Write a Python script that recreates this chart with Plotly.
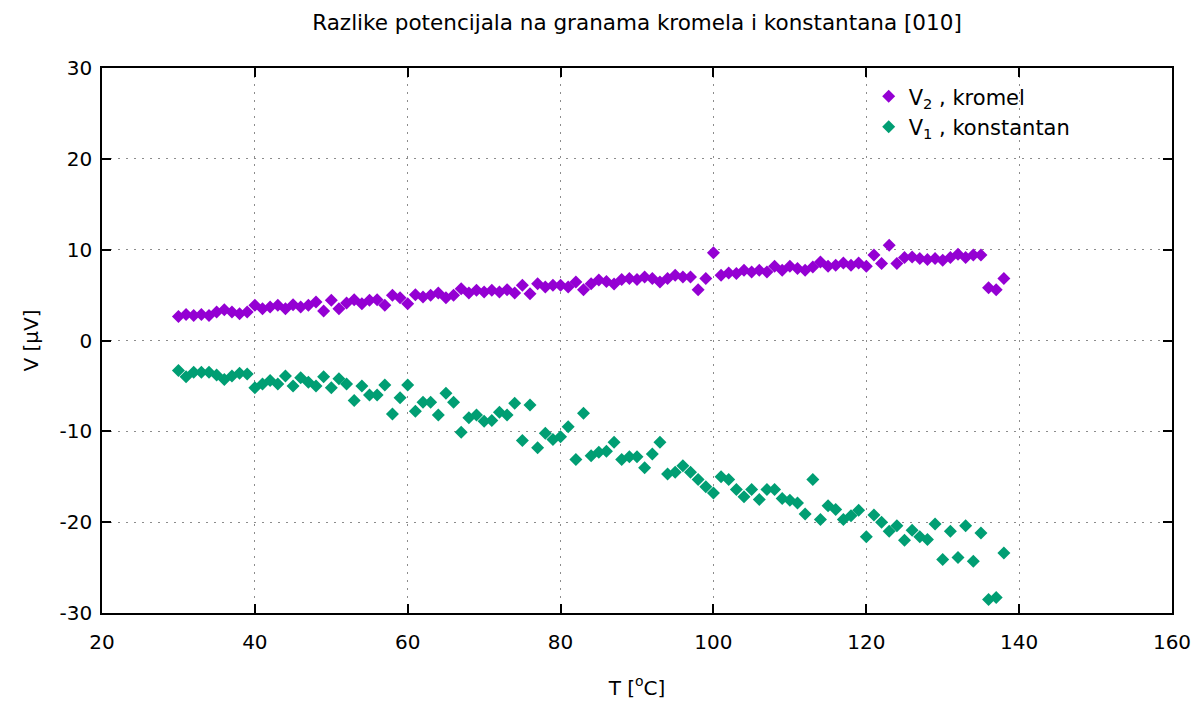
import plotly.graph_objects as go

T = list(range(30, 139))

V2_kromel = [
    2.65, 2.87, 2.76, 2.87, 2.76, 3.13, 3.39, 3.13, 2.95, 3.13,
    3.87, 3.5, 3.68, 3.87, 3.5, 3.94, 3.68, 3.87, 4.23, 3.24,
    4.42, 3.5, 4.12, 4.49, 4.05, 4.42, 4.49, 3.87, 4.97, 4.71,
    4.05, 5.05, 4.79, 4.97, 5.23, 4.71, 4.97, 5.71, 5.23, 5.52,
    5.34, 5.52, 5.34, 5.6, 5.23, 6.08, 5.16, 6.26, 5.89, 6.08,
    6.08, 5.89, 6.45, 5.6, 6.26, 6.67, 6.5, 6.22, 6.71, 6.82,
    6.71, 7.0, 6.82, 6.45, 6.82, 7.18, 7.0, 7.0, 5.6, 6.82,
    9.65, 7.18, 7.44, 7.37, 7.73, 7.55, 7.73, 7.55, 8.18, 7.73,
    8.18, 7.92, 7.73, 8.1, 8.65, 8.18, 8.29, 8.54, 8.29, 8.54,
    8.18, 9.4, 8.47, 10.5, 8.47, 9.13, 9.2, 9.02, 8.91, 9.02,
    8.84, 9.13, 9.5, 9.13, 9.4, 9.4, 5.82, 5.6, 6.82,
]

V1_konstantan = [
    -3.3, -4.0, -3.5, -3.5, -3.5, -3.8, -4.3, -3.9, -3.6, -3.7,
    -5.2, -4.8, -4.4, -4.8, -3.9, -5.0, -4.1, -4.6, -5.0, -4.0,
    -5.2, -4.2, -4.8, -6.6, -5.0, -6.0, -6.0, -4.9, -8.1, -6.3,
    -4.9, -7.8, -6.8, -6.8, -8.2, -5.8, -6.8, -10.1, -8.5, -8.2,
    -8.9, -8.8, -7.9, -8.2, -6.9, -11.0, -7.1, -11.8, -10.2, -10.9,
    -10.6, -9.5, -13.1, -8.0, -12.7, -12.3, -12.2, -11.2, -13.1, -12.8,
    -12.8, -14.0, -12.5, -11.2, -14.7, -14.5, -13.8, -14.5, -15.3, -16.1,
    -16.8, -15.0, -15.3, -16.4, -17.2, -16.4, -17.5, -16.4, -16.4, -17.4,
    -17.6, -17.9, -19.1, -15.3, -19.7, -18.2, -18.6, -19.7, -19.3, -18.7,
    -21.6, -19.2, -20.0, -21.0, -20.4, -22.0, -20.9, -21.6, -21.9, -20.2,
    -24.1, -21.0, -23.9, -20.4, -24.3, -21.2, -28.5, -28.3, -23.4,
]

x_ticks = [20, 40, 60, 80, 100, 120, 140, 160]
x_ticklabels = ["20", "40", "60", "80", "100", "120", "140", "160"]
y_ticks = [-30, -20, -10, 0, 10, 20, 30]
y_ticklabels = ["-30", "-20", "-10", "0", "10", "20", "30"]

FONT = "DejaVu Sans"
FS = 21

fig = go.Figure()
fig.add_trace(go.Scatter(
    x=T, y=V2_kromel, mode="markers", name="V<sub>2</sub> , kromel",
    marker=dict(symbol="diamond", size=10, color="#9400D3"),
))
fig.add_trace(go.Scatter(
    x=T, y=V1_konstantan, mode="markers", name="V<sub>1</sub> , konstantan",
    marker=dict(symbol="diamond", size=10, color="#009E73"),
))

axis_common = dict(
    showline=True, linecolor="black", linewidth=1.5, mirror="ticks",
    ticks="inside", ticklen=9, tickcolor="black", tickwidth=1.5,
    showgrid=True, gridcolor="#8c8c8c", griddash="2px,6px", gridwidth=1,
    zeroline=False, tickfont=dict(family=FONT, size=FS - 1, color="black"),
)

fig.update_layout(
    width=1200, height=702,
    paper_bgcolor="white", plot_bgcolor="white",
    margin=dict(l=94, r=36, t=60, b=97),
    title=dict(text="Razlike potencijala na granama kromela i konstantana [010]",
               x=0.5, xref="paper", xanchor="center", y=0.98, yanchor="middle",
               font=dict(family=FONT, size=FS + 0.5, color="black")),
    xaxis=dict(range=[20, 160], tickvals=x_ticks, ticktext=x_ticklabels,
               ticklabelstandoff=10,
               title=dict(text="T [<sup>o</sup>C]", font=dict(family=FONT, size=FS - 1, color="black"), standoff=28),
               **axis_common),
    yaxis=dict(range=[-30, 30], tickvals=y_ticks, ticktext=y_ticklabels,
               ticklabelstandoff=4,
               title=dict(text="V [μV]", font=dict(family=FONT, size=FS - 1, color="black"), standoff=16),
               **axis_common),
    legend=dict(x=0.91, y=0.985, xanchor="right", yanchor="top",
                bgcolor="rgba(0,0,0,0)", font=dict(family=FONT, size=FS, color="black"),
                itemwidth=30, tracegroupgap=0),
    showlegend=True,
)

fig.write_html("out.html")
